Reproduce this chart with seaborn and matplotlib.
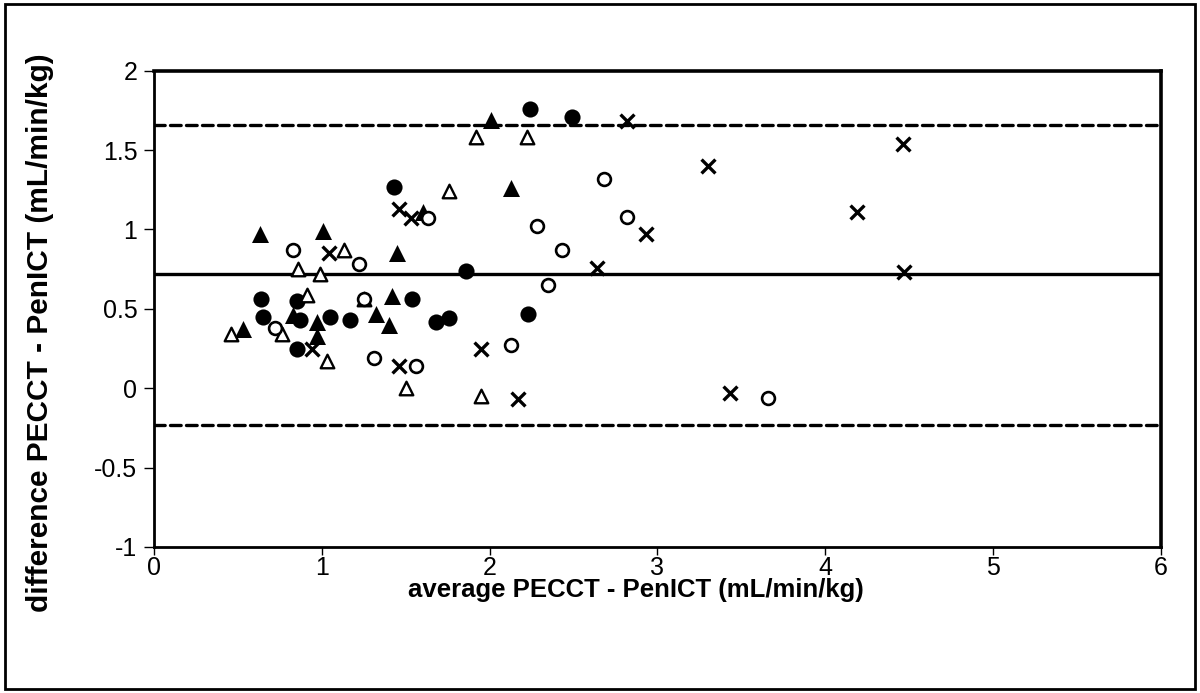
import numpy as np
import pandas as pd
import seaborn as sns
import matplotlib
matplotlib.use("Agg")
import matplotlib.pyplot as plt
from matplotlib.patches import Rectangle

# ---- data ----
filled_circle_x = [0.64, 0.65, 0.85, 0.87, 0.85, 1.05, 1.17, 1.43, 1.54, 1.68, 1.76, 1.86, 2.23, 2.24, 2.49]
filled_circle_y = [0.56, 0.45, 0.55, 0.43, 0.25, 0.45, 0.43, 1.27, 0.56, 0.42, 0.44, 0.74, 0.47, 1.76, 1.71]

filled_tri_x = [0.53, 0.63, 0.83, 0.97, 0.97, 1.01, 1.32, 1.40, 1.42, 1.45, 1.60, 2.01, 2.13]
filled_tri_y = [0.37, 0.97, 0.46, 0.42, 0.33, 0.99, 0.47, 0.40, 0.58, 0.85, 1.11, 1.69, 1.26]

open_tri_x = [0.46, 0.76, 0.86, 0.91, 0.99, 1.03, 1.13, 1.25, 1.50, 1.76, 1.92, 1.95, 2.22]
open_tri_y = [0.34, 0.34, 0.75, 0.59, 0.72, 0.17, 0.87, 0.56, 0.00, 1.24, 1.58, -0.05, 1.58]

open_circle_x = [0.72, 0.83, 1.22, 1.25, 1.31, 1.56, 1.63, 2.13, 2.28, 2.35, 2.43, 2.68, 2.82, 3.66]
open_circle_y = [0.38, 0.87, 0.78, 0.56, 0.19, 0.14, 1.07, 0.27, 1.02, 0.65, 0.87, 1.32, 1.08, -0.06]

cross_x = [0.94, 1.04, 1.46, 1.46, 1.53, 1.95, 2.17, 2.64, 2.82, 2.93, 3.30, 3.43, 4.19, 4.46, 4.47]
cross_y = [0.25, 0.85, 1.13, 0.14, 1.07, 0.25, -0.07, 0.76, 1.68, 0.97, 1.40, -0.03, 1.11, 1.54, 0.73]

mean_diff = 0.72
upper_loa = 1.66
lower_loa = -0.23

x_ticks = [0, 1, 2, 3, 4, 5, 6]
y_ticks = [-1, -0.5, 0, 0.5, 1, 1.5, 2]
y_tick_labels = ["-1", "-0.5", "0", "0.5", "1", "1.5", "2"]

xlabel = "average PECCT - PenICT (mL/min/kg)"
ylabel = "difference PECCT - PenICT (mL/min/kg)"

# ---- plot ----
sns.set_theme(style="white")
plt.rcParams["font.family"] = ["Liberation Sans", "DejaVu Sans"]

fig = plt.figure(figsize=(12, 6.93), dpi=100)
ax = fig.add_axes([0.1283, 0.2107, 0.8392, 0.6873])

def frame(xs, ys):
    return pd.DataFrame({"x": xs, "y": ys})

sns.scatterplot(data=frame(filled_circle_x, filled_circle_y), x="x", y="y", ax=ax,
                marker="o", s=135, color="black", edgecolor="black", linewidth=0, zorder=5)
sns.scatterplot(data=frame(filled_tri_x, filled_tri_y), x="x", y="y", ax=ax,
                marker="^", s=150, color="black", edgecolor="black", linewidth=0, zorder=5)
sns.scatterplot(data=frame(open_tri_x, open_tri_y), x="x", y="y", ax=ax,
                marker="^", s=95, facecolor="white", edgecolor="black", linewidth=1.7, zorder=5)
sns.scatterplot(data=frame(open_circle_x, open_circle_y), x="x", y="y", ax=ax,
                marker="o", s=85, facecolor="white", edgecolor="black", linewidth=1.9, zorder=5)
sns.scatterplot(data=frame(cross_x, cross_y), x="x", y="y", ax=ax,
                marker="x", s=100, color="black", linewidth=2.4, zorder=5)

ax.axhline(mean_diff, color="black", lw=2.4, zorder=3)
for v in (upper_loa, lower_loa):
    ax.axhline(v, color="black", lw=2.4, linestyle=(0, (3.2, 1.6)),
               dash_capstyle="round", zorder=3)

ax.set_xlim(0, 6)
ax.set_ylim(-1, 2)
ax.set_xticks(x_ticks)
ax.set_xticklabels([str(t) for t in x_ticks])
ax.set_yticks(y_ticks)
ax.set_yticklabels(y_tick_labels)
ax.tick_params(axis="both", direction="out", length=7, width=1, color="black",
               labelsize=18, labelcolor="black", pad=5, left=True, bottom=True)
ax.tick_params(axis="x", length=6, pad=0.5)

for side in ("left", "bottom"):
    ax.spines[side].set_linewidth(2.0)
for side in ("top", "right"):
    ax.spines[side].set_linewidth(2.6)
for sp in ax.spines.values():
    sp.set_color("black")
    sp.set_visible(True)

ax.set_xlabel(xlabel, fontsize=18.5, fontweight="bold", color="black")
ax.set_ylabel(ylabel, fontsize=21.5, fontweight="bold", color="black")
ax.xaxis.set_label_coords(0.479, -0.09)
ax.xaxis.label.set_va("center")
ax.yaxis.set_label_coords(-0.113, 0.45)
ax.yaxis.label.set_va("center")

fig.patches.append(Rectangle((0.004, 0.006), 0.992, 0.988, transform=fig.transFigure,
                             fill=False, edgecolor="black", linewidth=2))

fig.savefig("out.png", dpi=100, facecolor="white")
